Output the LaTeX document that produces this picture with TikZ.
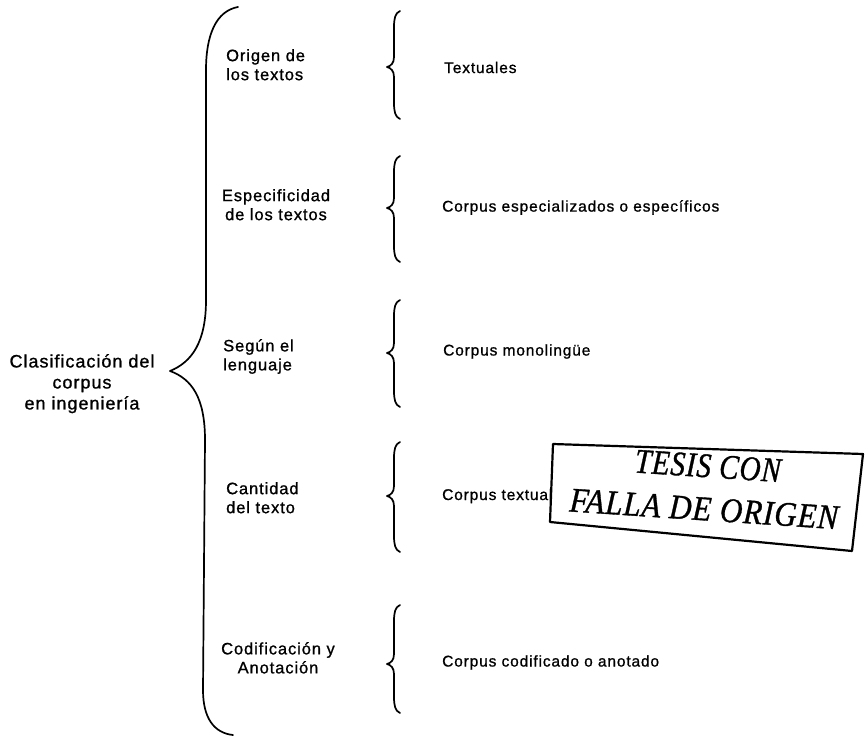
\documentclass[tikz,border=0pt]{standalone}
\usepackage{fontspec}
\usepackage{graphicx}
\setmainfont{Liberation Sans}
\newfontfamily\lfont[LetterSpace=5.5,FakeBold=1]{Liberation Sans}
\newfontfamily\stampfont[LetterSpace=3,FakeBold=1]{Liberation Serif}
\newcommand{\sbrace}[3]{%
  \draw[brc] (400,#1) .. controls (395,#1+2) and (394,#1+8) .. (394,#1+16)
    -- (394,#2-10) .. controls (394,#2-4) and (391,#2-1) .. (387,#2)
    .. controls (391,#2+1) and (394,#2+4) .. (394,#2+10)
    -- (394,#3-16) .. controls (394,#3-8) and (395,#3-2) .. (400,#3);}
\begin{document}
\begin{tikzpicture}[x=1pt,y=-1pt,
  brc/.style={line width=1.7pt, line cap=round, line join=round},
  lbl/.style={font=\lfont\fontsize{16.5}{19}\selectfont, inner sep=0pt},
  rootlbl/.style={font=\lfont\fontsize{18}{21}\selectfont, inner sep=0pt},
  rlbl/.style={font=\lfont\fontsize{15.5}{18}\selectfont, inner sep=0pt, anchor=west},
  stamptxt/.style={font=\stampfont\itshape\fontsize{31}{31}\selectfont, inner sep=0pt, rotate=-3.8}
]
\useasboundingbox (0,0) rectangle (866,738);
% main brace
\draw[brc] (238,7) .. controls (216,11) and (206,35) .. (206,70)
  -- (206,300) .. controls (206,342) and (192,362) .. (170,371)
  .. controls (192,379) and (205,398) .. (205,440)
  -- (203,690) .. controls (203,718) and (214,733) .. (233,735);
% small braces
\sbrace{11}{67}{119}
\sbrace{156}{208}{262}
\sbrace{300}{353}{407}
\sbrace{442}{496}{552}
\sbrace{605}{664}{713}
% labels
\node[rootlbl, align=center, anchor=north] (root) at (82,354) {Clasificación del\\corpus\\en ingeniería};
\node[lbl, align=left, anchor=north west] (c1) at (226,49) {Origen de\\los textos};
\node[lbl, align=center, anchor=north] (c2) at (276,189) {Especificidad\\de los textos};
\node[lbl, align=left, anchor=north west] (c3) at (223,339) {Según el\\lenguaje};
\node[lbl, align=left, anchor=north west] (c4) at (226,482) {Cantidad\\del texto};
\node[lbl, align=center, anchor=north] (c5) at (278,642) {Codificación y\\Anotación};
\node[rlbl] (r1) at (444,67.5) {Textuales};
\node[rlbl] (r2) at (442,207.5) {Corpus especializados o específicos};
\node[rlbl] (r3) at (443,351.5) {Corpus monolingüe};
\node[rlbl] (r4) at (442,496) {Corpus textual};
\node[rlbl] (r5) at (442,662.5) {Corpus codificado o anotado};
% stamp
\draw[line width=2.2pt, fill=white, line join=round] (553,444) -- (863,454) -- (852,551) -- (550,522) -- cycle;
\node[stamptxt] (s1) at (708,466) {\scalebox{0.94}[1.12]{TESIS CON}};
\node[stamptxt] (s2) at (704,509) {\scalebox{1}[1.12]{FALLA DE ORIGEN}};
\end{tikzpicture}
\end{document}
